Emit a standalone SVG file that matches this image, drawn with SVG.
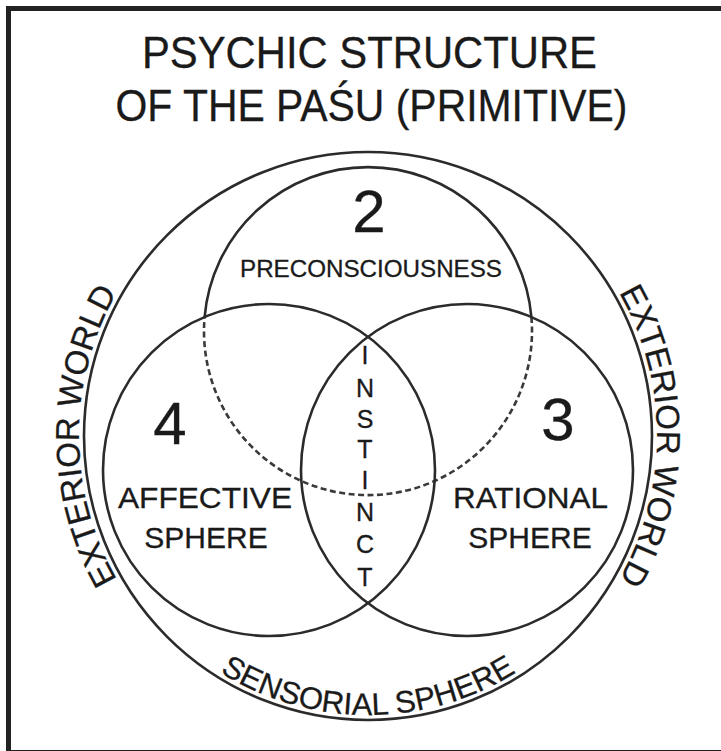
<svg xmlns="http://www.w3.org/2000/svg" width="721" height="751" viewBox="0 0 721 751">
<style>
  .ln{fill:none;stroke:#2b2b2b;stroke-width:2.6}
  .dash{fill:none;stroke:#3a3a3a;stroke-width:2.6;stroke-dasharray:6 3.5}
  text{font-family:"Liberation Sans",Arial,Helvetica,sans-serif;fill:#1a1a1a;stroke:#1a1a1a;stroke-width:0.3}
  .title{font-size:45px;text-anchor:middle}
  .num{font-size:60px;text-anchor:middle}
  .lbl{font-size:30px;text-anchor:middle}
  .sens{font-size:31px}
  .pre{font-size:24px;text-anchor:middle}
  .ins{font-size:25px;text-anchor:middle}
  .arc{font-size:33px}
</style>
<defs>
  <path id="pLeft" d="M 368 725 A 289 289 0 0 1 368 147"/>
  <path id="pRight" d="M 368 147 A 289 289 0 0 1 368 725"/>
  <path id="pBottom" d="M 89 436 A 279 279 0 0 0 647 436"/>
</defs>
<rect x="0" y="0" width="721" height="751" fill="#fff"/>
<rect x="8.5" y="8.5" width="730" height="744" fill="none" stroke="#222" stroke-width="5"/>

<g id="title">
  <text class="title" x="369.5" y="68" textLength="455" lengthAdjust="spacingAndGlyphs">PSYCHIC STRUCTURE</text>
  <text class="title" x="371.5" y="121" textLength="512" lengthAdjust="spacingAndGlyphs">OF THE PAŚU (PRIMITIVE)</text>
</g>

<g id="sensorial-sphere">
  <circle class="ln" cx="368" cy="436" r="284"/>
  <text class="arc"><textPath href="#pLeft" startOffset="50%" text-anchor="middle">EXTERIOR WORLD</textPath></text>
  <text class="arc"><textPath href="#pRight" startOffset="50%" text-anchor="middle">EXTERIOR WORLD</textPath></text>
  <text class="sens"><textPath href="#pBottom" startOffset="50%" text-anchor="middle">SENSORIAL SPHERE</textPath></text>
</g>

<g id="preconsciousness">
  <path class="ln" d="M 204.6 317.1 A 164 164 0 0 1 531.4 317.1"/>
  <path class="dash" d="M 531.4 317.1 A 164 164 0 1 1 204.6 317.1"/>
  <text class="num" x="369" y="232">2</text>
  <text class="pre" x="371" y="277" textLength="262" lengthAdjust="spacingAndGlyphs">PRECONSCIOUSNESS</text>
</g>

<g id="affective-sphere">
  <circle class="ln" cx="269" cy="470" r="166"/>
  <text class="num" x="170" y="444">4</text>
  <text class="lbl" x="205" y="508" textLength="174" lengthAdjust="spacingAndGlyphs">AFFECTIVE</text>
  <text class="lbl" x="206" y="548">SPHERE</text>
</g>

<g id="rational-sphere">
  <circle class="ln" cx="467" cy="470" r="166"/>
  <text class="num" x="558" y="440">3</text>
  <text class="lbl" x="530.5" y="508" textLength="155" lengthAdjust="spacingAndGlyphs">RATIONAL</text>
  <text class="lbl" x="530" y="548">SPHERE</text>
</g>

<g id="instinct">
  <text class="ins" x="365" y="364">I</text>
  <text class="ins" x="365" y="397">N</text>
  <text class="ins" x="365" y="428">S</text>
  <text class="ins" x="365" y="458">T</text>
  <text class="ins" x="365" y="489">I</text>
  <text class="ins" x="365" y="521">N</text>
  <text class="ins" x="365" y="553">C</text>
  <text class="ins" x="365" y="586">T</text>
</g>

<g id="connectors"></g>
</svg>
